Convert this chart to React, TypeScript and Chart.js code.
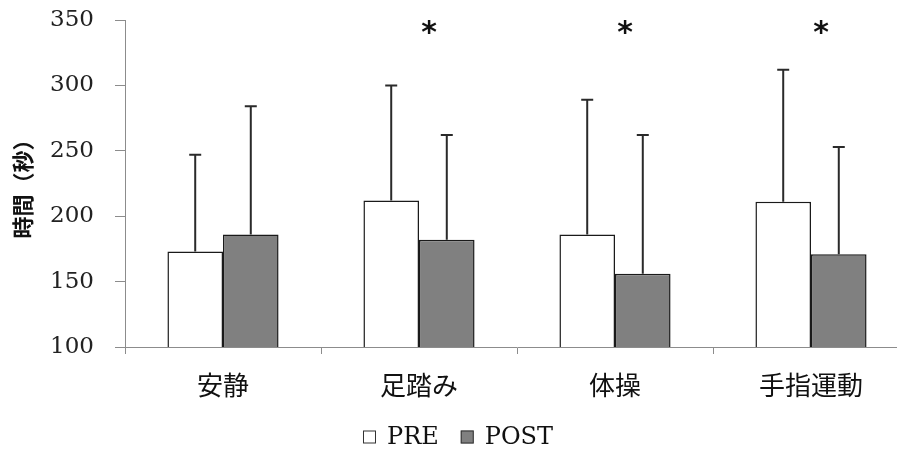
import React, { useEffect, useRef } from "react";
import { Chart, registerables } from "chart.js";

Chart.register(...registerables);

const categories = ["安静", "足踏み", "体操", "手指運動"];
const preMeans = [173, 212, 186, 211];
const preSD = [74, 88, 103, 101];
const postMeans = [186, 182, 156, 171];
const postSD = [98, 80, 106, 82];
const significance = ["", "*", "*", "*"];
const yTicks = [100, 150, 200, 250, 300, 350];
const seriesNames = ["PRE", "POST"];

const AXIS = "#8c8c8c";

const errorBarPlugin = {
  id: "errorBars",
  afterDatasetsDraw(chart: any) {
    const ctx = chart.ctx;
    const y = chart.scales.y;
    const x = chart.scales.x;
    [preSD, postSD].forEach((sds, di) => {
      const meta = chart.getDatasetMeta(di);
      const vals = chart.data.datasets[di].data as number[];
      meta.data.forEach((bar: any, i: number) => {
        const top = y.getPixelForValue(vals[i] + sds[i]);
        ctx.save();
        ctx.strokeStyle = "#2a2a2a";
        ctx.lineWidth = 2;
        ctx.beginPath();
        ctx.moveTo(bar.x, bar.y);
        ctx.lineTo(bar.x, top);
        ctx.moveTo(bar.x - 6, top);
        ctx.lineTo(bar.x + 6, top);
        ctx.stroke();
        ctx.restore();
      });
    });
    ctx.save();
    ctx.fillStyle = "#111";
    ctx.font = "bold 30px 'DejaVu Sans'";
    ctx.textAlign = "center";
    ctx.textBaseline = "middle";
    significance.forEach((s, i) => {
      if (!s) return;
      ctx.fillText(s, x.getPixelForValue(i) + 10, chart.chartArea.top + 14);
    });
    ctx.restore();
  },
  afterDraw(chart: any) {
    // legend
    const ctx = chart.ctx;
    ctx.save();
    ctx.font = "24px 'DejaVu Serif'";
    ctx.textBaseline = "middle";
    ctx.textAlign = "left";
    const box = 13;
    const gap = 11;
    const itemGap = 22;
    const ds = chart.data.datasets;
    const widths = ds.map((d: any) => box + gap + ctx.measureText(d.label).width);
    const total = widths.reduce((a: number, b: number) => a + b, 0) + itemGap * (ds.length - 1);
    let xPos = chart.width / 2 - total / 2 + 2;
    const yc = chart.height - 20;
    ds.forEach((d: any, i: number) => {
      ctx.fillStyle = d.backgroundColor;
      ctx.fillRect(xPos, yc - box / 2, box, box);
      ctx.strokeStyle = "#333";
      ctx.lineWidth = 1;
      ctx.strokeRect(xPos + 0.5, yc - box / 2 + 0.5, box - 1, box - 1);
      ctx.fillStyle = "#111";
      ctx.fillText(d.label, xPos + box + gap, yc + 1);
      xPos += widths[i] + itemGap;
    });
    ctx.restore();
  },
};

export default function App() {
  const ref = useRef<HTMLCanvasElement | null>(null);
  useEffect(() => {
    document.body.style.overflow = "hidden";
    const chart = new Chart(ref.current as HTMLCanvasElement, {
      type: "bar",
      data: {
        labels: categories,
        datasets: [
          {
            label: seriesNames[0],
            data: preMeans,
            backgroundColor: "#ffffff",
            borderColor: "#1a1a1a",
            borderWidth: 1.5,
            barPercentage: 1,
            categoryPercentage: 0.567,
          },
          {
            label: seriesNames[1],
            data: postMeans,
            backgroundColor: "#808080",
            borderColor: "#1a1a1a",
            borderWidth: 1.5,
            barPercentage: 1,
            categoryPercentage: 0.567,
          },
        ],
      },
      options: {
        responsive: false,
        animation: false,
        layout: { padding: { top: 20, right: 3, left: 0, bottom: 0 } },
        plugins: {
          tooltip: { enabled: false },
          legend: { display: false },
        },
        scales: {
          x: {
            offset: true,
            grid: {
              display: true,
              drawOnChartArea: false,
              drawTicks: true,
              tickLength: 7,
              color: AXIS,
              offset: true,
            },
            border: { color: AXIS, width: 1 },
            ticks: {
              color: "#111",
              padding: 16,
              maxRotation: 0,
              font: { family: "Noto Sans CJK JP", size: 26 },
            },
            afterFit: (s: any) => {
              s.height = 110;
            },
          },
          y: {
            min: 100,
            max: 350,
            afterBuildTicks: (s: any) => {
              s.ticks = yTicks.map((v) => ({ value: v }));
            },
            ticks: {
              color: "#222",
              padding: 21,
              font: { family: "DejaVu Serif", size: 23 },
            },
            grid: {
              drawOnChartArea: false,
              drawTicks: true,
              tickLength: 10,
              color: AXIS,
            },
            border: { color: AXIS, width: 1 },
            title: {
              display: true,
              text: "時間（秒）",
              color: "#111",
              font: { family: "Noto Sans CJK JP", size: 22, weight: "bold" },
              padding: { top: 9, bottom: 0 },
            },
            afterFit: (s: any) => {
              s.width = 125;
              s.paddingTop = 0;
              s.paddingBottom = 0;
            },
          },
        },
      },
      plugins: [errorBarPlugin],
    } as any);
    return () => chart.destroy();
  }, []);
  return (
    <div style={{ position: "fixed", left: 0, top: 0, width: 912, height: 457, background: "#fff" }}>
      <canvas ref={ref} width={912} height={457} style={{ display: "block" }} />
    </div>
  );
}
